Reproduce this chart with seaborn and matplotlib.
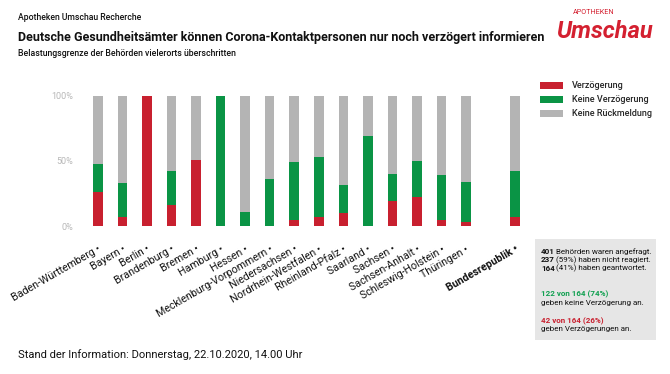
import matplotlib
matplotlib.use("Agg")
import matplotlib.pyplot as plt
import seaborn as sns
import pandas as pd
from matplotlib.patches import Rectangle, Patch

sns.set_style("white")
plt.rcParams['font.family'] = ['Roboto', 'DejaVu Sans']

states = ["Baden-Württemberg", "Bayern", "Berlin", "Brandenburg", "Bremen", "Hamburg",
          "Hessen", "Mecklenburg-Vorpommern", "Niedersachsen", "Nordrhein-Westfalen",
          "Rheinland-Pfalz", "Saarland", "Sachsen", "Sachsen-Anhalt", "Schleswig-Holstein",
          "Thüringen", "Bundesrepublik"]
verzoegerung = [26, 7, 100, 16, 51, 0, 0, 0, 5, 7, 10, 0, 19, 22, 5, 3, 7]
keine_verzoegerung = [22, 26, 0, 26, 0, 100, 11, 36, 44, 46, 21.5, 69.5, 21, 28, 34, 31, 35]
keine_rueckmeldung = [100 - a - b for a, b in zip(verzoegerung, keine_verzoegerung)]
y_ticks = [0, 50, 100]
y_ticklabels = ["0%", "50%", "100%"]
legend_labels = ["Verzögerung", "Keine Verzögerung", "Keine Rückmeldung"]

RED = "#c8202f"
GREEN = "#0a9445"
GREY = "#b4b4b4"

df = pd.DataFrame({
    "state": states,
    "red": verzoegerung,
    "green_top": [a + b for a, b in zip(verzoegerung, keine_verzoegerung)],
    "grey_top": [a + b + c for a, b, c in zip(verzoegerung, keine_verzoegerung, keine_rueckmeldung)],
})
order = states[:-1] + [" "] + states[-1:]

W, H = 670, 374
fig = plt.figure(figsize=(W / 100, H / 100), dpi=100)

def fx(x):
    return x / W

def fy(y):
    return 1 - y / H

ax = fig.add_axes([fx(85.7), fy(226), 441.6 / W, 130 / H])

for col, c in [("grey_top", GREY), ("green_top", GREEN), ("red", RED)]:
    sns.barplot(data=df, x="state", y=col, order=order, color=c, saturation=1,
                width=0.39, linewidth=0, ax=ax, errorbar=None)

ax.set_xlim(-0.5, len(order) - 0.5)
ax.set_ylim(0, 100)
ax.set_xlabel("")
ax.set_ylabel("")
for s in ax.spines.values():
    s.set_visible(False)

ax.set_yticks(y_ticks)
ax.set_yticklabels(y_ticklabels, color="#b8b8b8", fontsize=6.5)
ax.tick_params(axis="y", length=0, pad=9)

xt = list(range(len(order)))
xl = [(o + " •") if o.strip() else "" for o in order]
ax.set_xticks(xt)
ax.set_xticklabels(xl, rotation=30, ha="right", rotation_mode="anchor", fontsize=7.7, color="#111111")
ax.tick_params(axis="x", length=0, pad=13)
ax.get_xticklabels()[-1].set_fontweight("bold")

# Header
fig.text(fx(18), fy(18), "Apotheken Umschau Recherche", fontsize=6.2, weight="medium", va="center", color="#111111")
fig.text(fx(18), fy(37), "Deutsche Gesundheitsämter können Corona-Kontaktpersonen nur noch verzögert informieren",
         fontsize=9.0, weight="bold", va="center", color="#111111")
fig.text(fx(18), fy(53), "Belastungsgrenze der Behörden vielerorts überschritten", fontsize=6.3,
         weight="medium", va="center", color="#111111")

# Logo
fig.text(fx(556), fy(31), "Umschau", fontsize=17, weight="bold", style="italic", color="#d42030",
         va="center", ha="left")
fig.text(fx(573), fy(12.5), "APOTHEKEN", fontsize=5.2, color="#d42030", va="center", ha="left")

# Legend
handles = [Patch(facecolor=c, edgecolor="none") for c in [RED, GREEN, GREY]]
fig.legend(handles, legend_labels, loc="upper left", bbox_to_anchor=(fx(540), fy(81.5)),
           frameon=False, handlelength=2.6, handleheight=0.75,
           labelspacing=0.55, handletextpad=0.9, borderpad=0, borderaxespad=0,
           prop={"weight": "medium", "size": 6.5})

# Info box
fig.add_artist(Rectangle((fx(535), fy(340)), 121 / W, 101 / H, transform=fig.transFigure,
                         facecolor="#e6e6e6", edgecolor="none", zorder=-1))

FS = 5.8

def line(y, first, rest, c1="#111111", w1="bold"):
    t = fig.text(fx(541), fy(y), first, fontsize=FS, weight=w1, color=c1, va="baseline", zorder=5)
    if rest:
        ax.annotate(rest, xy=(1, 0), xycoords=t, xytext=(1.0, 0), textcoords="offset points",
                    fontsize=FS, color="#111111", va="bottom", ha="left",
                    annotation_clip=False, zorder=5)
    return t

line(254, "401", "Behörden waren angefragt.")
line(262.5, "237", "(59%) haben nicht reagiert.")
line(271, "164", "(41%) haben geantwortet.")
line(296, "122 von 164 (74%)", "", c1="#10a050")
line(304.5, "geben keine Verzögerung an.", "", w1="normal")
line(323, "42 von 164 (26%)", "", c1="#c8202f")
line(331.5, "geben Verzögerungen an.", "", w1="normal")

# Footer
fig.text(fx(18), fy(355), "Stand der Information: Donnerstag, 22.10.2020, 14.00 Uhr", fontsize=8,
         va="center", color="#111111")

fig.savefig("out.png", dpi=100)
